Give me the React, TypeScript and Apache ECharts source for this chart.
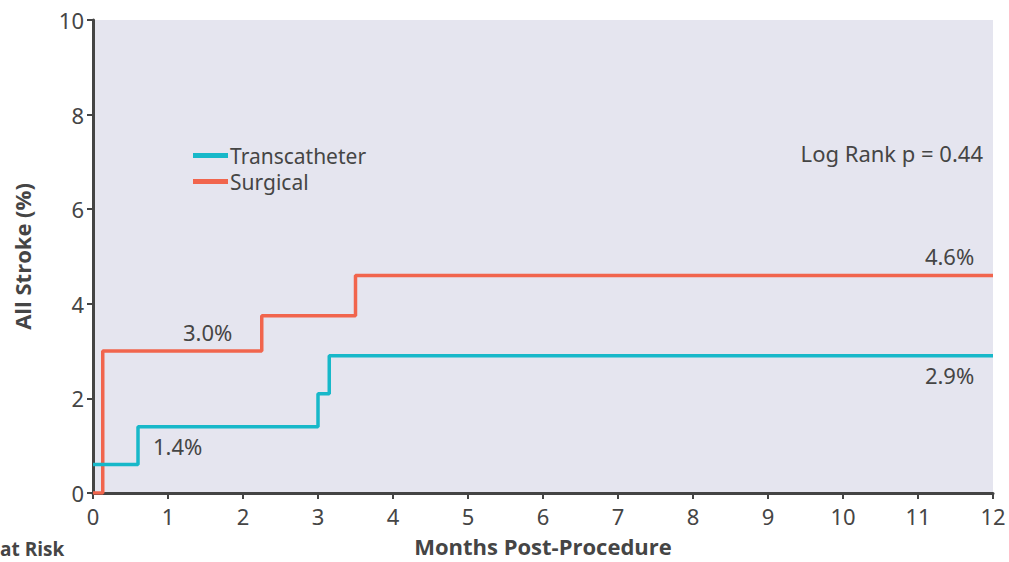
import React, { useEffect, useRef } from "react";
import * as echarts from "echarts";

const xTicks = [0, 1, 2, 3, 4, 5, 6, 7, 8, 9, 10, 11, 12];
const yTicks = [0, 2, 4, 6, 8, 10];
const transcatheterX = [0, 0.6, 3.0, 3.15, 12];
const transcatheterY = [0.6, 1.4, 2.1, 2.9, 2.9];
const surgicalX = [0, 0.13, 2.25, 3.5, 12];
const surgicalY = [0, 3.0, 3.75, 4.6, 4.6];
const seriesNames = ["Transcatheter", "Surgical"];
const colors = ["#17b8c9", "#f1654d"];

// annotation texts anchored to data values
const annoTexts = ["4.6%", "2.9%", "3.0%", "1.4%"];
const annoX = [11.75, 11.75, 1.2, 0.8];
const annoY = [4.6, 2.9, 3.0, 1.4];

const FONT = "'Noto Sans', 'Open Sans', sans-serif";
const BOLD = "'Open Sans', sans-serif";
const TXT = "#454545";

export default function App() {
  const ref = useRef<HTMLDivElement>(null);
  useEffect(() => {
    if (!ref.current) return;
    const chart = echarts.init(ref.current, undefined, { renderer: "svg" });
    const pts = (xs: number[], ys: number[]) => xs.map((x, i) => [x, ys[i]]);
    chart.setOption({
      animation: false,
      textStyle: { fontFamily: FONT },
      grid: {
        left: 93,
        right: 16,
        top: 20,
        bottom: 67,
        show: true,
        backgroundColor: "#e5e5ef",
        borderWidth: 0,
      },
      legend: {
        orient: "vertical",
        left: 193,
        top: 145,
        padding: 0,
        itemWidth: 35,
        itemHeight: 5,
        itemGap: 5,
        icon: "rect",
        data: seriesNames,
        textStyle: { fontSize: 21, lineHeight: 21, color: TXT, fontFamily: FONT, padding: [0, 0, 0, -3] },
      },
      xAxis: {
        type: "value",
        min: xTicks[0],
        max: xTicks[xTicks.length - 1],
        interval: 1,
        name: "Months Post-Procedure",
        nameLocation: "middle",
        nameGap: 42,
        nameTextStyle: { fontSize: 22, fontWeight: "bold", color: TXT, fontFamily: BOLD },
        axisLine: { show: true, lineStyle: { color: "#444", width: 3 } },
        axisTick: { show: true, length: 6, lineStyle: { color: "#444", width: 2 } },
        axisLabel: { fontSize: 22, color: TXT, margin: 12 },
        splitLine: { show: false },
      },
      yAxis: {
        type: "value",
        min: yTicks[0],
        max: yTicks[yTicks.length - 1],
        interval: 2,
        name: "All Stroke (%)",
        nameLocation: "middle",
        nameGap: 60,
        nameTextStyle: { fontSize: 22, fontWeight: "bold", color: TXT, fontFamily: BOLD },
        axisLine: { show: true, lineStyle: { color: "#444", width: 3 } },
        axisTick: { show: true, length: 6, lineStyle: { color: "#444", width: 2 } },
        axisLabel: { fontSize: 22, color: TXT, margin: 9 },
        splitLine: { show: false },
      },
      series: [
        {
          name: seriesNames[0],
          type: "line",
          step: "end",
          data: pts(transcatheterX, transcatheterY),
          showSymbol: false,
          symbol: "none",
          itemStyle: { color: colors[0] },
          lineStyle: { color: colors[0], width: 3.5 },
          z: 3,
        },
        {
          name: seriesNames[1],
          type: "line",
          step: "end",
          data: pts(surgicalX, surgicalY),
          showSymbol: false,
          symbol: "none",
          itemStyle: { color: colors[1] },
          lineStyle: { color: colors[1], width: 3.5 },
          z: 2,
        },
      ],
    });

    // position annotations from the chart's own scales
    const above = [true, false, true, false];
    const alignRight = [true, true, false, false];
    const gfx: any[] = annoTexts.map((t, i) => {
      const p = chart.convertToPixel({ gridIndex: 0 }, [annoX[i], annoY[i]]) as number[];
      return {
        type: "text",
        x: p[0],
        y: above[i] ? p[1] - 8 : p[1] + 8,
        style: {
          text: t,
          fontSize: 22,
          fill: TXT,
          fontFamily: FONT,
          align: alignRight[i] ? "right" : "left",
          verticalAlign: above[i] ? "bottom" : "top",
        },
      };
    });
    gfx.push({
      type: "text",
      right: 26,
      top: 142,
      style: { text: "Log Rank p = 0.44", fontSize: 22, fill: TXT, fontFamily: FONT },
    });
    gfx.push({
      type: "text",
      left: 0,
      top: 539,
      style: { text: "at Risk", fontSize: 19, fontWeight: "bold", fill: TXT, fontFamily: BOLD },
    });
    chart.setOption({ graphic: gfx });
    return () => chart.dispose();
  }, []);
  return (
    <div
      ref={ref}
      style={{ position: "fixed", left: 0, top: 0, width: 1009, height: 562, background: "#fff" }}
    />
  );
}
